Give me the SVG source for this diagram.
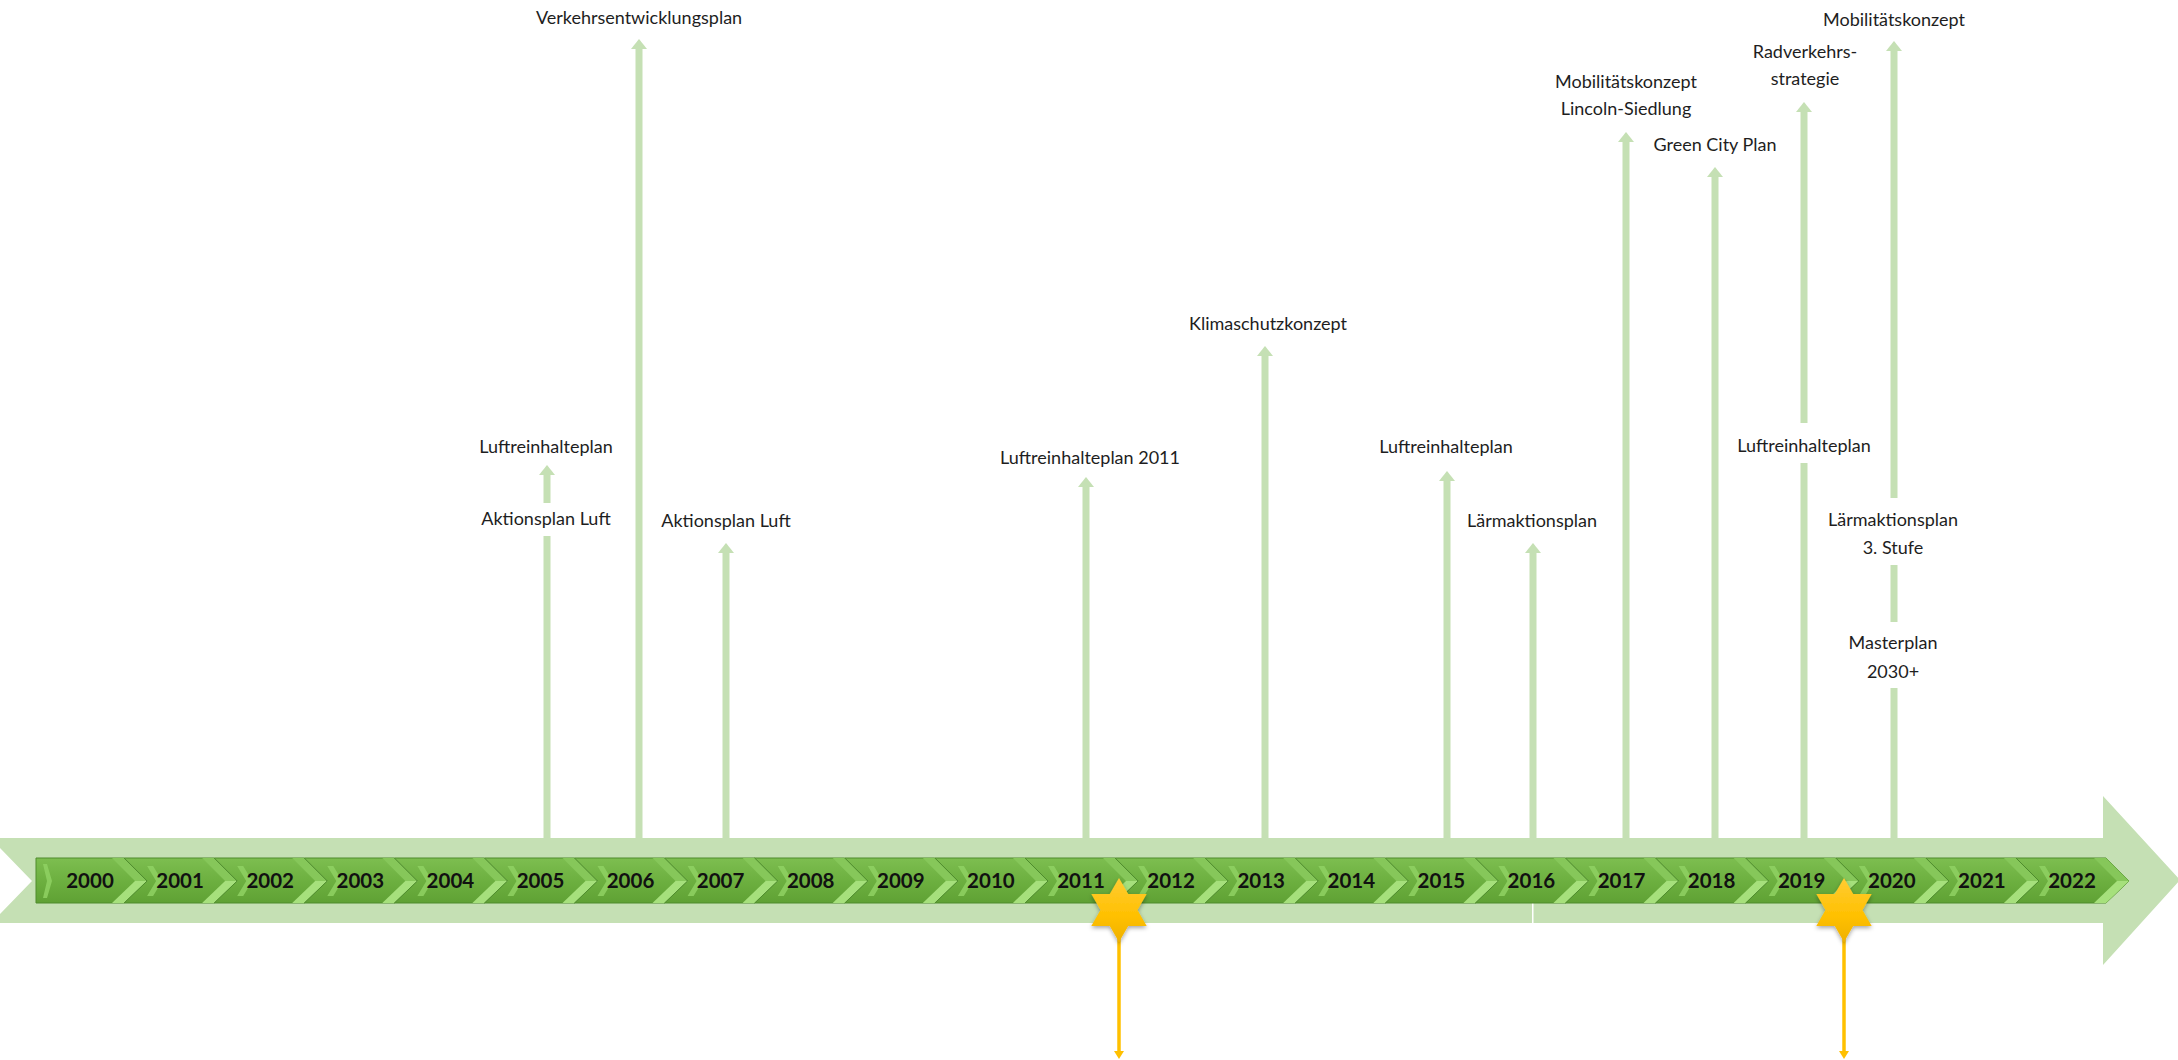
<svg xmlns="http://www.w3.org/2000/svg" width="2178" height="1060" viewBox="0 0 2178 1060">
<style>
.lbl{font-family:Lato,"Open Sans","Liberation Sans",sans-serif;font-size:18px;fill:#1e1e1e;text-anchor:middle}
.yr{font-family:Lato,"Liberation Sans",sans-serif;font-size:20.5px;font-weight:bold;fill:#111;text-anchor:middle}
.conn{stroke:#C5E0B4;stroke-width:7;fill:none}
.gold{stroke:#FFC000;stroke-width:3.5;fill:none}
.seg{fill:url(#segG);stroke:#4E8B2D;stroke-width:1}
.bvU{fill:#86C75A}
.bvL{fill:#A6E07C}
.inw{fill:#8FD163;opacity:0.85}
.bg{fill:#fff}
</style>
<defs>
<linearGradient id="segG" x1="0" y1="0" x2="0" y2="1">
<stop offset="0" stop-color="#7DBE50"/>
<stop offset="0.5" stop-color="#6DB040"/>
<stop offset="1" stop-color="#5FA134"/>
</linearGradient>
<linearGradient id="starG" x1="0" y1="0" x2="0" y2="1">
<stop offset="0" stop-color="#FFCC33"/>
<stop offset="0.6" stop-color="#FFC000"/>
<stop offset="1" stop-color="#EFB100"/>
</linearGradient>
<filter id="sh" x="-30%" y="-30%" width="160%" height="160%">
<feDropShadow dx="0" dy="2" stdDeviation="2" flood-color="#000" flood-opacity="0.35"/>
</filter>
<marker id="ga" viewBox="0 0 10 16" refX="0" refY="8" markerWidth="10" markerHeight="16" markerUnits="userSpaceOnUse" orient="auto">
<path d="M0,0 L10,8 L0,16 Z" fill="#C5E0B4"/>
</marker>
<marker id="ya" viewBox="0 0 8 10" refX="0" refY="5" markerWidth="8" markerHeight="10" markerUnits="userSpaceOnUse" orient="auto">
<path d="M0,0 L8,5 L0,10 Z" fill="#FFC000"/>
</marker>
<path id="star" d="M0,-32 L9.24,-16 L27.71,-16 L18.48,0 L27.71,16 L9.24,16 L0,32 L-9.24,16 L-27.71,16 L-18.48,0 L-27.71,-16 L-9.24,-16 Z"/>
<g id="chev">
<polygon class="seg" points="-56,858 34,858 57,881 34,903 -56,903 -33,881"/>
<polygon class="bvU" points="22,858 34,858 57,881 45,881"/>
<polygon class="bvL" points="45,881 57,881 34,903 22,903"/>
<polygon class="inw" points="-33,866 -27,866 -18,881 -27,896 -33,896 -24,881"/>
</g>
</defs>

<g id="band">
<polygon points="0,838 2103,838 2103,796 2180,880 2103,965 2103,923 0,923 0,914 32,881 0,848" fill="#C5E0B4"/>
<rect x="1532" y="903" width="1.5" height="20" fill="#fff"/>
</g>

<g id="connectors">
<line class="conn" x1="547" y1="838" x2="547" y2="475" marker-end="url(#ga)"/>
<line class="conn" x1="639" y1="838" x2="639" y2="49" marker-end="url(#ga)"/>
<line class="conn" x1="726" y1="838" x2="726" y2="553" marker-end="url(#ga)"/>
<line class="conn" x1="1086" y1="838" x2="1086" y2="487" marker-end="url(#ga)"/>
<line class="conn" x1="1265" y1="838" x2="1265" y2="356" marker-end="url(#ga)"/>
<line class="conn" x1="1447" y1="838" x2="1447" y2="481" marker-end="url(#ga)"/>
<line class="conn" x1="1533" y1="838" x2="1533" y2="553" marker-end="url(#ga)"/>
<line class="conn" x1="1626" y1="838" x2="1626" y2="142" marker-end="url(#ga)"/>
<line class="conn" x1="1715" y1="838" x2="1715" y2="177" marker-end="url(#ga)"/>
<line class="conn" x1="1804" y1="838" x2="1804" y2="112" marker-end="url(#ga)"/>
<line class="conn" x1="1894" y1="838" x2="1894" y2="51" marker-end="url(#ga)"/>
<line class="gold" x1="1119" y1="930" x2="1119" y2="1051" marker-end="url(#ya)"/>
<line class="gold" x1="1844" y1="930" x2="1844" y2="1051" marker-end="url(#ya)"/>
</g>

<g id="timeline">
<g id="y2000">
<polygon class="seg" points="36,858 124,858 147,881 124,903 36,903"/>
<polygon class="bvU" points="112,858 124,858 147,881 135,881"/>
<polygon class="bvL" points="135,881 147,881 124,903 112,903"/>
<polygon class="inw" points="43,864 47,864 52,881 47,898 43,898 47,881"/>
<text class="yr" x="90" y="888">2000</text>
</g>
<g id="y2001"><use href="#chev" transform="translate(180.1,0)"/><text class="yr" x="180.1" y="888">2001</text></g>
<g id="y2002"><use href="#chev" transform="translate(270.2,0)"/><text class="yr" x="270.2" y="888">2002</text></g>
<g id="y2003"><use href="#chev" transform="translate(360.3,0)"/><text class="yr" x="360.3" y="888">2003</text></g>
<g id="y2004"><use href="#chev" transform="translate(450.4,0)"/><text class="yr" x="450.4" y="888">2004</text></g>
<g id="y2005"><use href="#chev" transform="translate(540.5,0)"/><text class="yr" x="540.5" y="888">2005</text></g>
<g id="y2006"><use href="#chev" transform="translate(630.5,0)"/><text class="yr" x="630.5" y="888">2006</text></g>
<g id="y2007"><use href="#chev" transform="translate(720.6,0)"/><text class="yr" x="720.6" y="888">2007</text></g>
<g id="y2008"><use href="#chev" transform="translate(810.7,0)"/><text class="yr" x="810.7" y="888">2008</text></g>
<g id="y2009"><use href="#chev" transform="translate(900.8,0)"/><text class="yr" x="900.8" y="888">2009</text></g>
<g id="y2010"><use href="#chev" transform="translate(990.9,0)"/><text class="yr" x="990.9" y="888">2010</text></g>
<g id="y2011"><use href="#chev" transform="translate(1081,0)"/><text class="yr" x="1081" y="888">2011</text></g>
<g id="y2012"><use href="#chev" transform="translate(1171.1,0)"/><text class="yr" x="1171.1" y="888">2012</text></g>
<g id="y2013"><use href="#chev" transform="translate(1261.2,0)"/><text class="yr" x="1261.2" y="888">2013</text></g>
<g id="y2014"><use href="#chev" transform="translate(1351.3,0)"/><text class="yr" x="1351.3" y="888">2014</text></g>
<g id="y2015"><use href="#chev" transform="translate(1441.4,0)"/><text class="yr" x="1441.4" y="888">2015</text></g>
<g id="y2016"><use href="#chev" transform="translate(1531.4,0)"/><text class="yr" x="1531.4" y="888">2016</text></g>
<g id="y2017"><use href="#chev" transform="translate(1621.5,0)"/><text class="yr" x="1621.5" y="888">2017</text></g>
<g id="y2018"><use href="#chev" transform="translate(1711.6,0)"/><text class="yr" x="1711.6" y="888">2018</text></g>
<g id="y2019"><use href="#chev" transform="translate(1801.7,0)"/><text class="yr" x="1801.7" y="888">2019</text></g>
<g id="y2020"><use href="#chev" transform="translate(1891.8,0)"/><text class="yr" x="1891.8" y="888">2020</text></g>
<g id="y2021"><use href="#chev" transform="translate(1981.9,0)"/><text class="yr" x="1981.9" y="888">2021</text></g>
<g id="y2022"><use href="#chev" transform="translate(2072,0)"/><text class="yr" x="2072" y="888">2022</text></g>
</g>

<g id="star2011"><use href="#star" transform="translate(1119,910)" fill="url(#starG)" filter="url(#sh)"/></g>
<g id="star2019"><use href="#star" transform="translate(1844,910)" fill="url(#starG)" filter="url(#sh)"/></g>

<g id="n-verkehrsentwicklungsplan"><text class="lbl" x="639" y="24">Verkehrsentwicklungsplan</text></g>
<g id="n-luftreinhalteplan-2005"><text class="lbl" x="546" y="453">Luftreinhalteplan</text></g>
<g id="n-aktionsplan-2005"><rect class="bg" x="476" y="503" width="140" height="33"/><text class="lbl" x="546" y="525">Aktionsplan Luft</text></g>
<g id="n-aktionsplan-2007"><text class="lbl" x="726" y="527">Aktionsplan Luft</text></g>
<g id="n-luftreinhalteplan-2011"><text class="lbl" x="1090" y="464">Luftreinhalteplan 2011</text></g>
<g id="n-klimaschutzkonzept"><text class="lbl" x="1268" y="330">Klimaschutzkonzept</text></g>
<g id="n-luftreinhalteplan-2015"><text class="lbl" x="1446" y="453">Luftreinhalteplan</text></g>
<g id="n-laermaktionsplan-2016"><text class="lbl" x="1532" y="527">Lärmaktionsplan</text></g>
<g id="n-mobilitaetskonzept-lincoln"><text class="lbl" x="1626" y="88">Mobilitätskonzept</text><text class="lbl" x="1626" y="115">Lincoln-Siedlung</text></g>
<g id="n-green-city-plan"><text class="lbl" x="1715" y="151">Green City Plan</text></g>
<g id="n-radverkehrsstrategie"><text class="lbl" x="1805" y="58">Radverkehrs-</text><text class="lbl" x="1805" y="85">strategie</text></g>
<g id="n-luftreinhalteplan-2019"><rect class="bg" x="1730" y="423" width="150" height="40"/><text class="lbl" x="1804" y="452">Luftreinhalteplan</text></g>
<g id="n-mobilitaetskonzept-2020"><text class="lbl" x="1894" y="26">Mobilitätskonzept</text></g>
<g id="n-laermaktionsplan-2020"><rect class="bg" x="1824" y="498" width="140" height="67"/><text class="lbl" x="1893" y="526">Lärmaktionsplan</text><text class="lbl" x="1893" y="554">3. Stufe</text></g>
<g id="n-masterplan"><rect class="bg" x="1838" y="622" width="112" height="66"/><text class="lbl" x="1893" y="649">Masterplan</text><text class="lbl" x="1893" y="678">2030+</text></g>
</svg>
